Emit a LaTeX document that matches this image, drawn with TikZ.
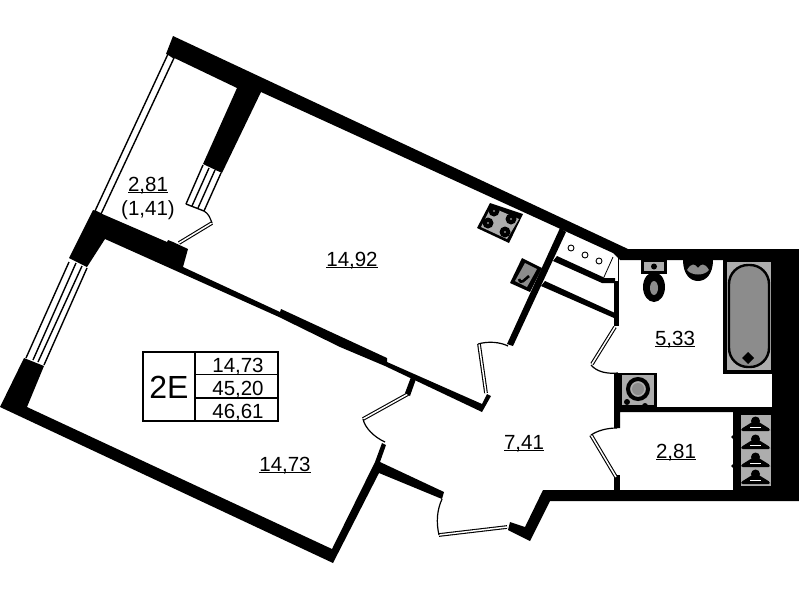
\documentclass[tikz,border=0pt]{standalone}
\usepackage{fontspec}
\setmainfont{Liberation Sans}
\newcommand{\ulbl}[1]{\setbox0\hbox{#1}\rlap{\rule[-2.2pt]{\wd0}{1.1pt}}\box0}
\definecolor{fixgray}{gray}{0.55}
\definecolor{fixlight}{gray}{0.68}
\tikzset{
  lbl/.style={anchor=base,inner sep=0pt,font=\fontsize{20.5}{24}\selectfont},
  wall/.style={fill=black},
  leaf/.style={draw=black,line width=1.1pt,double=white,double distance=1.5pt},
  pane/.style={draw=black,line width=1.4pt},
  swing/.style={draw=black,line width=1.2pt},
  tbl/.style={draw=black,line width=1.2pt}
}
\begin{document}
\begin{tikzpicture}[x=1pt,y=-1pt]
\useasboundingbox (0,0) rectangle (799,600);
\fill[white] (0,0) rectangle (799,600);
% main walls
\fill[wall] (173,36)--(628,249)--(799,249)--(799,260)--(620,260)--(613,253)--(261,92)--(222,173)--(203,164)--(237,88)--(166,54)--cycle;
\fill[wall] (772,260)--(799,260)--(799,501)--(550,501)--(530,541)--(508,530)--(510,522)--(525,527)--(543,490)--(772,490)--cycle;
% balcony partition and room divider
\fill[wall] (93,210)--(167,242)--(168,240)--(173,242)--(188,249)--(183,267)--(280,312)--(281,309)--(387,358)--(387,362)--(482,404)--(487,394)--(491,396)--(482,412)--(385,366)--(340,347)--(279,317)--(105,239)--(87,267)--(69,258)--cycle;
% left room
\fill[wall] (24,358)--(44,366)--(27,407)--(332,549)--(375,462)--(382,443)--(386,445)--(380,462)--(444,492)--(442,499)--(379,473)--(333,563)--(0,407)--cycle;
% kitchen wall
\fill[wall] (560,228)--(566,232)--(513,346)--(507,344)--cycle;
% shaft walls
\fill[wall] (557,256)--(605,278)--(615,278)--(615,283)--(602,283)--(553,261)--cycle;
\fill[wall] (545,281)--(615,313)--(614,318)--(541,286)--cycle;
\fill[wall] (614,281)--(619,281)--(619,326)--(614,326)--cycle;
\draw[line width=1.2pt] (618.5,258)--(618.5,282);
\draw[line width=0.8pt] (604,277)--(613,257);
\foreach \cx/\cy in {571/248,585/255,599/261}
  \draw[line width=0.9pt,fill=white] (\cx,\cy) circle (3);
% bathroom and closet walls
\fill[wall] (614,407)--(773,407)--(773,412)--(620,412)--(620,428)--(614,428)--cycle;
\fill[wall] (614,475)--(620,475)--(620,490)--(614,490)--cycle;
\fill[wall] (733,409)--(772,409)--(772,490)--(733,490)--cycle;
\fill[wall] (733,437) circle (1.8) (733,466) circle (1.8);
% balcony glazing
\draw[pane,fill=white] (168,54)--(95,211)--(101,214)--(174,58)--cycle;
\foreach \a/\b/\c/\d in {203/165/186/204,209/168/192/206,215/170/198/208,221/173/204/211}
  \draw[pane] (\a,\b)--(\c,\d);
\draw[pane] (186,204)--(204,211);
\foreach \a/\b/\c/\d in {69/262/26/358,76/263/33/360,82/266/38/362,87/268/44/365}
  \draw[pane] (\a,\b)--(\c,\d);
% doors
\draw[leaf] (212,223)--(179,243);
\draw[swing] (204,211) .. controls (209,214) and (210,218) .. (212,223);
\draw[leaf] (479,344)--(486,393);
\draw[swing] (478,344) .. controls (488,341) and (500,342) .. (508,346);
\draw[leaf] (363,419)--(408,394);
\fill[wall] (405,393)--(410,396)--(416,379)--(411,377)--cycle;
\draw[swing] (363,419) .. controls (365,428) and (374,437) .. (385,442);
\draw[leaf] (439,535)--(507,527);
\draw[swing] (439,535) .. controls (436,522) and (437,510) .. (442,499);
\draw[leaf] (615,327)--(592,364);
\draw[swing] (591,365) .. controls (597,372) and (607,374) .. (618,373);
\draw[leaf] (591,435)--(616,477);
\draw[swing] (591,435) .. controls (597,431) and (606,428) .. (617,428);
% stove
\fill[wall] (490,203)--(523,214)--(509,243)--(477,228)--cycle;
\fill[fixlight] (491,207)--(519,219)--(507,239)--(481,227)--cycle;
\foreach \cx/\cy in {494/211,511/219,488/223,505/232}{
  \fill[wall] (\cx,\cy) circle (5.5);
  \fill[fixgray] (\cx,\cy) circle (1.2);
}
% kitchen sink
\fill[wall] (522,258)--(542,268)--(530,292)--(510,283)--cycle;
\fill[fixgray] (525,263)--(537,269)--(527,287)--(515,281)--cycle;
\draw[line width=2.6pt] (519,279) .. controls (521,285) and (524,280) .. (529,276);
% toilet
\fill[wall] (641,260) rectangle (667,274);
\fill[fixlight] (644,262) rectangle (664,271);
\fill[wall] (654,266.5) circle (3);
\fill[wall] (654,287) ellipse (11 and 15);
\fill[fixgray] (654,288) ellipse (4 and 7);
% wash basin
\fill[wall] (683,260) .. controls (683,274) and (690,281) .. (698,281) .. controls (706,281) and (713,274) .. (713,260) -- cycle;
\fill[fixgray] (687,270) .. controls (692,262) and (695,264) .. (698,268) .. controls (701,264) and (704,262) .. (709,270) .. controls (704,276) and (692,276) .. (687,270) -- cycle;
% bath
\fill[wall] (723,260) rectangle (772,374);
\fill[fixlight] (727,262) rectangle (771,370);
\draw[line width=2.4pt,fill=fixgray,rounded corners=19pt] (729,265) rectangle (769,367);
\fill[wall] (748,352)--(754,358)--(748,364)--(742,358)--cycle;
% washing machine
\fill[wall] (614,373) rectangle (657,408);
\fill[fixlight] (622,375) rectangle (654,405);
\draw[line width=4pt] (638,389) circle (10);
\fill[fixgray] (638,389) circle (6);
\fill[wall] (627,402) circle (3) (645,406) circle (3);
% hangers
\fill[fixlight] (741,415) rectangle (771,486);
\foreach \hy in {430,448,466,483}{
  \fill[wall] (755.5,\hy-9) circle (4.5);
  \fill[wall,rounded corners=1.5pt] (755.5,\hy-10)--(770,\hy-1)--(770,\hy+1)--(741,\hy+1)--(741,\hy-1)--cycle;
  \fill[white] (750,\hy-3) rectangle (761,\hy-2);
}
% summary table
\draw[tbl] (143,352) rectangle (278,421);
\draw[tbl] (195,352)--(195,421);
\draw[tbl] (195,374.5)--(278,374.5);
\draw[tbl] (195,398)--(278,398);
% labels
\node[lbl] (a1) at (148,191) {\ulbl{2,81}};
\node[lbl] (a2) at (148,215) {(1,41)};
\node[lbl] (a3) at (352,266) {\ulbl{14,92}};
\node[lbl] (a4) at (675,345) {\ulbl{5,33}};
\node[lbl] (a5) at (524,449) {\ulbl{7,41}};
\node[lbl] (a6) at (676,458) {\ulbl{2,81}};
\node[lbl] (a7) at (285,471) {\ulbl{14,73}};
\node[lbl,font=\fontsize{32}{36}\selectfont] (t0) at (169,398) {2E};
\node[lbl] (t1) at (238,372) {14,73};
\node[lbl] (t2) at (238,395) {45,20};
\node[lbl] (t3) at (238,418) {46,61};
\end{tikzpicture}
\end{document}
